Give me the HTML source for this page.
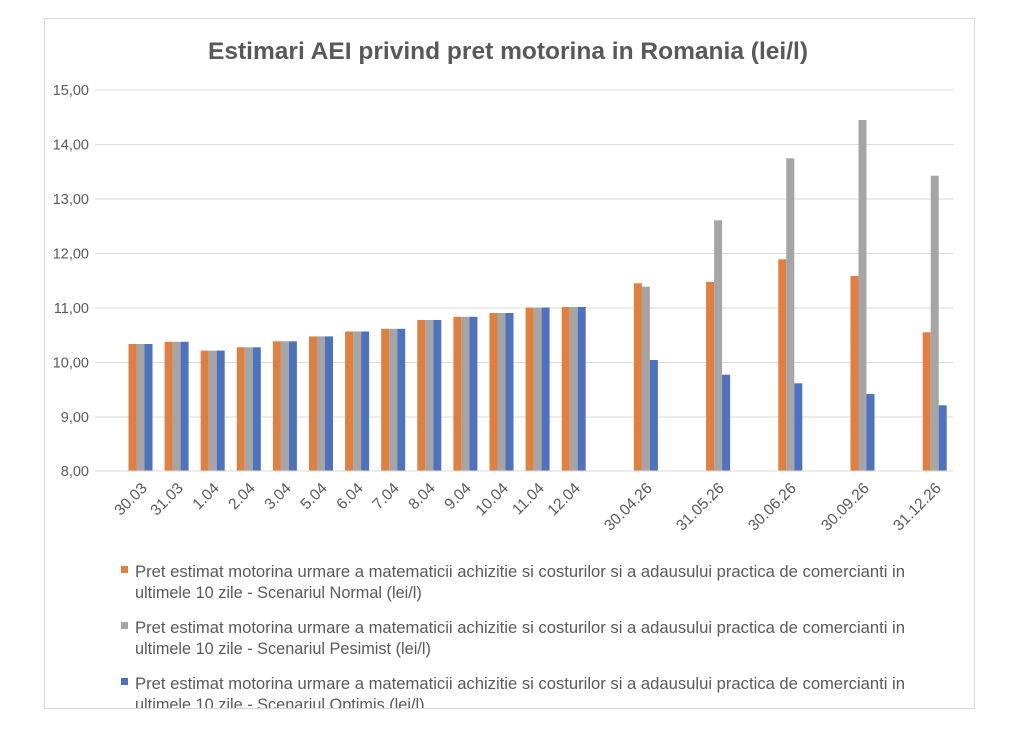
<!DOCTYPE html>
<html><head><meta charset="utf-8"><style>
html,body{margin:0;padding:0;background:#fff;}
svg{display:block;font-family:"Liberation Sans",Arial,sans-serif;}
</style></head><body>
<svg width="1024" height="747" viewBox="0 0 1024 747">
<rect x="44.5" y="18.5" width="930" height="700" fill="#fff" stroke="#d9d9d9"/>
<text x="508" y="59" text-anchor="middle" font-size="24" font-weight="bold" fill="#595959" textLength="600" lengthAdjust="spacingAndGlyphs">Estimari AEI privind pret motorina in Romania (lei/l)</text>
<g stroke="#d9d9d9" stroke-width="1">
<line x1="95" x2="953" y1="90" y2="90"/><line x1="95" x2="953" y1="144.5" y2="144.5"/>
<line x1="95" x2="953" y1="199" y2="199"/><line x1="95" x2="953" y1="253.5" y2="253.5"/>
<line x1="95" x2="953" y1="308" y2="308"/><line x1="95" x2="953" y1="362.5" y2="362.5"/>
<line x1="95" x2="953" y1="417" y2="417"/><line x1="95" x2="953" y1="471" y2="471"/>
</g>
<g font-size="14.5" fill="#595959" text-anchor="end">
<text x="89" y="95">15,00</text><text x="89" y="149.5">14,00</text><text x="89" y="204">13,00</text>
<text x="89" y="258.5">12,00</text><text x="89" y="313">11,00</text><text x="89" y="367.5">10,00</text>
<text x="89" y="422">9,00</text><text x="89" y="476">8,00</text>
</g>
<g>
<g fill="#e07f3f">
<rect x="128.5" y="344" width="8" height="127"/><rect x="164.6" y="341.8" width="8" height="129.2"/>
<rect x="200.7" y="350.6" width="8" height="120.4"/><rect x="236.8" y="347.3" width="8" height="123.7"/>
<rect x="272.9" y="341.3" width="8" height="129.7"/><rect x="309" y="336.4" width="8" height="134.6"/>
<rect x="345.1" y="331.5" width="8" height="139.5"/><rect x="381.2" y="328.8" width="8" height="142.2"/>
<rect x="417.3" y="320" width="8" height="151"/><rect x="453.4" y="316.8" width="8" height="154.2"/>
<rect x="489.5" y="313" width="8" height="158"/><rect x="525.6" y="307.5" width="8" height="163.5"/>
<rect x="561.7" y="307" width="8" height="164"/><rect x="633.9" y="283.3" width="8" height="187.7"/>
<rect x="706.1" y="282" width="8" height="189"/><rect x="778.3" y="259.3" width="8" height="211.7"/>
<rect x="850.5" y="276" width="8" height="195"/><rect x="922.7" y="332.3" width="8" height="138.7"/>
</g>
<g fill="#a5a5a5">
<rect x="136.5" y="344" width="8" height="127"/><rect x="172.6" y="341.8" width="8" height="129.2"/>
<rect x="208.7" y="350.6" width="8" height="120.4"/><rect x="244.8" y="347.3" width="8" height="123.7"/>
<rect x="280.9" y="341.3" width="8" height="129.7"/><rect x="317" y="336.4" width="8" height="134.6"/>
<rect x="353.1" y="331.5" width="8" height="139.5"/><rect x="389.2" y="328.8" width="8" height="142.2"/>
<rect x="425.3" y="320" width="8" height="151"/><rect x="461.4" y="316.8" width="8" height="154.2"/>
<rect x="497.5" y="313" width="8" height="158"/><rect x="533.6" y="307.5" width="8" height="163.5"/>
<rect x="569.7" y="307" width="8" height="164"/><rect x="641.9" y="286.7" width="8" height="184.3"/>
<rect x="714.1" y="220.3" width="8" height="250.7"/><rect x="786.3" y="158.3" width="8" height="312.7"/>
<rect x="858.5" y="120" width="8" height="351"/><rect x="930.7" y="175.7" width="8" height="295.3"/>
</g>
<g fill="#4f72be">
<rect x="144.5" y="344" width="8" height="127"/><rect x="180.6" y="341.8" width="8" height="129.2"/>
<rect x="216.7" y="350.6" width="8" height="120.4"/><rect x="252.8" y="347.3" width="8" height="123.7"/>
<rect x="288.9" y="341.3" width="8" height="129.7"/><rect x="325" y="336.4" width="8" height="134.6"/>
<rect x="361.1" y="331.5" width="8" height="139.5"/><rect x="397.2" y="328.8" width="8" height="142.2"/>
<rect x="433.3" y="320" width="8" height="151"/><rect x="469.4" y="316.8" width="8" height="154.2"/>
<rect x="505.5" y="313" width="8" height="158"/><rect x="541.6" y="307.5" width="8" height="163.5"/>
<rect x="577.7" y="307" width="8" height="164"/><rect x="649.9" y="360" width="8" height="111"/>
<rect x="722.1" y="374.7" width="8" height="96.3"/><rect x="794.3" y="383.3" width="8" height="87.7"/>
<rect x="866.5" y="394" width="8" height="77"/><rect x="938.7" y="405.3" width="8" height="65.7"/>
</g>
</g>
<line x1="95" x2="953" y1="471" y2="471" stroke="#d9d9d9"/>
<g font-size="15.5" fill="#595959" text-anchor="end">
<text transform="translate(148,489) rotate(-45)">30.03</text>
<text transform="translate(184,489) rotate(-45)">31.03</text>
<text transform="translate(220,489) rotate(-45)">1.04</text>
<text transform="translate(256,489) rotate(-45)">2.04</text>
<text transform="translate(292,489) rotate(-45)">3.04</text>
<text transform="translate(328,489) rotate(-45)">5.04</text>
<text transform="translate(364,489) rotate(-45)">6.04</text>
<text transform="translate(400,489) rotate(-45)">7.04</text>
<text transform="translate(436,489) rotate(-45)">8.04</text>
<text transform="translate(472,489) rotate(-45)">9.04</text>
<text transform="translate(509,489) rotate(-45)">10.04</text>
<text transform="translate(545,489) rotate(-45)">11.04</text>
<text transform="translate(581,489) rotate(-45)">12.04</text>
<text transform="translate(653,489) rotate(-45)">30.04.26</text>
<text transform="translate(725,489) rotate(-45)">31.05.26</text>
<text transform="translate(797,489) rotate(-45)">30.06.26</text>
<text transform="translate(870,489) rotate(-45)">30.09.26</text>
<text transform="translate(942,489) rotate(-45)">31.12.26</text>
</g>
<svg x="0" y="0" width="1024" height="708" overflow="hidden">
<g font-size="16.3" fill="#595959">
<rect x="121" y="566" width="7" height="7" fill="#e07f3f"/>
<text x="135" y="577" textLength="770" lengthAdjust="spacingAndGlyphs">Pret estimat motorina urmare a matematicii achizitie si costurilor si a adausului practica de comercianti in</text>
<text x="135" y="598">ultimele 10 zile - Scenariul Normal (lei/l)</text>
<rect x="121" y="622" width="7" height="7" fill="#a5a5a5"/>
<text x="135" y="633" textLength="770" lengthAdjust="spacingAndGlyphs">Pret estimat motorina urmare a matematicii achizitie si costurilor si a adausului practica de comercianti in</text>
<text x="135" y="654">ultimele 10 zile - Scenariul Pesimist (lei/l)</text>
<rect x="121" y="678" width="7" height="7" fill="#4f72be"/>
<text x="135" y="689" textLength="770" lengthAdjust="spacingAndGlyphs">Pret estimat motorina urmare a matematicii achizitie si costurilor si a adausului practica de comercianti in</text>
<text x="135" y="710">ultimele 10 zile - Scenariul Optimis (lei/l)</text>
</g>
</svg>
<line x1="44" x2="975" y1="708.5" y2="708.5" stroke="#d9d9d9"/>
<rect x="0" y="709" width="1024" height="38" fill="#fff"/>
</svg>
</body></html>
